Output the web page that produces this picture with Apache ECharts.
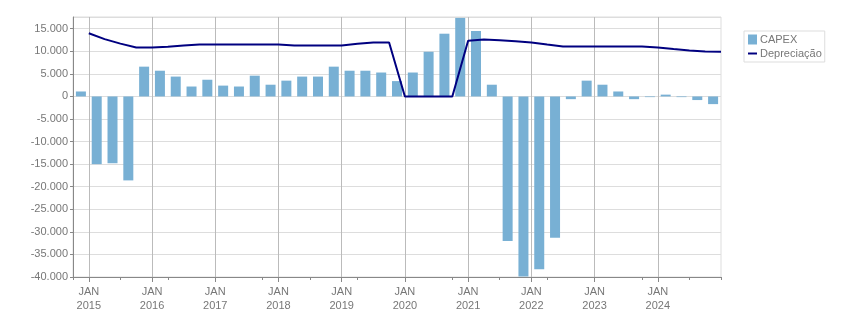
<!DOCTYPE html>
<html>
<head>
<meta charset="utf-8">
<script src="https://cdn.jsdelivr.net/npm/echarts@6/dist/echarts.min.js"></script>
<style>
  html, body { margin: 0; padding: 0; background: #fff; }
  #chart { width: 851px; height: 313px; }
</style>
</head>
<body>
<div id="chart"></div>
<script>
// trimestres das barras (CAPEX)
var quarters = [
  '4T14',
  '1T15','2T15','3T15','4T15',
  '1T16','2T16','3T16','4T16',
  '1T17','2T17','3T17','4T17',
  '1T18','2T18','3T18','4T18',
  '1T19','2T19','3T19','4T19',
  '1T20','2T20','3T20','4T20',
  '1T21','2T21','3T21','4T21',
  '1T22','2T22','3T22','4T22',
  '1T23','2T23','3T23','4T23',
  '1T24','2T24','3T24','4T24'
];
// datas de fronteira entre trimestres (eixo com os rótulos JAN)
var boundaries = [
  'OUT 2014',
  'JAN 2015','ABR 2015','JUL 2015','OUT 2015',
  'JAN 2016','ABR 2016','JUL 2016','OUT 2016',
  'JAN 2017','ABR 2017','JUL 2017','OUT 2017',
  'JAN 2018','ABR 2018','JUL 2018','OUT 2018',
  'JAN 2019','ABR 2019','JUL 2019','OUT 2019',
  'JAN 2020','ABR 2020','JUL 2020','OUT 2020',
  'JAN 2021','ABR 2021','JUL 2021','OUT 2021',
  'JAN 2022','ABR 2022','JUL 2022','OUT 2022',
  'JAN 2023','ABR 2023','JUL 2023','OUT 2023',
  'JAN 2024','ABR 2024','JUL 2024','OUT 2024',
  'JAN 2025'
];
var capex = [
  1100,
  -15000, -14800, -18600, 6600,
  5700, 4400, 2200, 3700,
  2400, 2200, 4600, 2600,
  3500, 4400, 4400, 6600,
  5700, 5700, 5300, 3400,
  5300, 9900, 13900, 17400,
  14500, 2600, -32000, -39900,
  -38300, -31300, -600, 3500,
  2600, 1100, -600, -150,
  400, -150, -800, -1700
];
// depreciação, de JAN 2015 a JAN 2025
var depreciacao = [
  14000, 12700, 11700, 10850,
  10850, 11000, 11300, 11500,
  11500, 11500, 11500, 11500,
  11500, 11300, 11300, 11300,
  11300, 11650, 11950, 11950,
  0, 0, 0, 0,
  12320, 12600, 12470, 12250,
  11950, 11500, 11070, 11070,
  11070, 11070, 11070, 11070,
  10850, 10500, 10200, 9970,
  9900
];

var FONT = 'Liberation Sans';
var TXT = '#777';
var COR_BARRA = '#78b0d4';
var COR_LINHA = '#000080';

function fmtMil(v){
  var s = Math.abs(v).toFixed(0).replace(/\B(?=(\d{3})+(?!\d))/g, '.');
  return (v < 0 ? '-' : '') + s;
}
function isJan(idx){
  return idx % 4 === 1 && idx < boundaries.length - 1;
}

var chart = echarts.init(document.getElementById('chart'));
chart.setOption({
  animation: false,
  grid: {
    left: 73, right: 130, top: 17, bottom: 33,
    show: true, borderColor: '#ddd', borderWidth: 1
  },
  legend: {
    orient: 'vertical',
    left: 744, top: 31,
    itemWidth: 9, itemHeight: 10, itemGap: 3,
    padding: [3, 3, 3, 4],
    borderColor: '#ddd', borderWidth: 1,
    textStyle: { color: TXT, fontFamily: FONT, fontSize: 11, padding: [0, 0, 0, -2] },
    data: [
      { name: 'CAPEX', icon: 'rect' },
      { name: 'Depreciação', icon: 'path://M0,0 L10,0 L10,2.2 L0,2.2 Z', itemStyle: { color: COR_LINHA } }
    ]
  },
  xAxis: [
    {
      type: 'category',
      data: quarters,
      position: 'bottom',
      boundaryGap: true,
      axisLine: { show: true, onZero: false, lineStyle: { color: '#888' } },
      axisTick: { show: true, length: 3, lineStyle: { color: '#888' } },
      axisLabel: { show: false },
      splitLine: { show: false }
    },
    {
      type: 'category',
      data: boundaries,
      position: 'bottom',
      boundaryGap: false,
      axisLine: { show: false, onZero: false },
      axisTick: {
        show: true, length: 5,
        interval: function(i){ return isJan(i); },
        lineStyle: { color: '#888' }
      },
      axisLabel: {
        interval: function(i){ return isJan(i); },
        formatter: function(v){ return v.replace(' ', '\n'); },
        color: TXT, fontFamily: FONT, fontSize: 11,
        lineHeight: 14, margin: 8
      },
      splitLine: {
        show: true,
        interval: function(i){ return isJan(i); },
        lineStyle: { color: '#bbb', width: 1 }
      }
    }
  ],
  yAxis: {
    type: 'value',
    min: -40000, max: 17600, interval: 5000,
    axisLine: { show: true, lineStyle: { color: '#888' } },
    axisTick: { show: true, length: 3, lineStyle: { color: '#888' } },
    axisLabel: {
      showMaxLabel: false,
      formatter: fmtMil,
      color: TXT, fontFamily: FONT, fontSize: 11, margin: 5
    },
    splitLine: { show: true, lineStyle: { color: '#ddd', width: 1 } }
  },
  series: [
    {
      name: 'CAPEX',
      type: 'bar',
      xAxisIndex: 0,
      data: capex,
      barWidth: 10,
      itemStyle: { color: COR_BARRA }
    },
    {
      name: 'Depreciação',
      type: 'line',
      xAxisIndex: 1,
      data: [null].concat(depreciacao),
      symbol: 'none',
      showSymbol: false,
      lineStyle: { color: COR_LINHA, width: 2 },
      itemStyle: { color: COR_LINHA },
      z: 3
    }
  ]
});
</script>
</body>
</html>
